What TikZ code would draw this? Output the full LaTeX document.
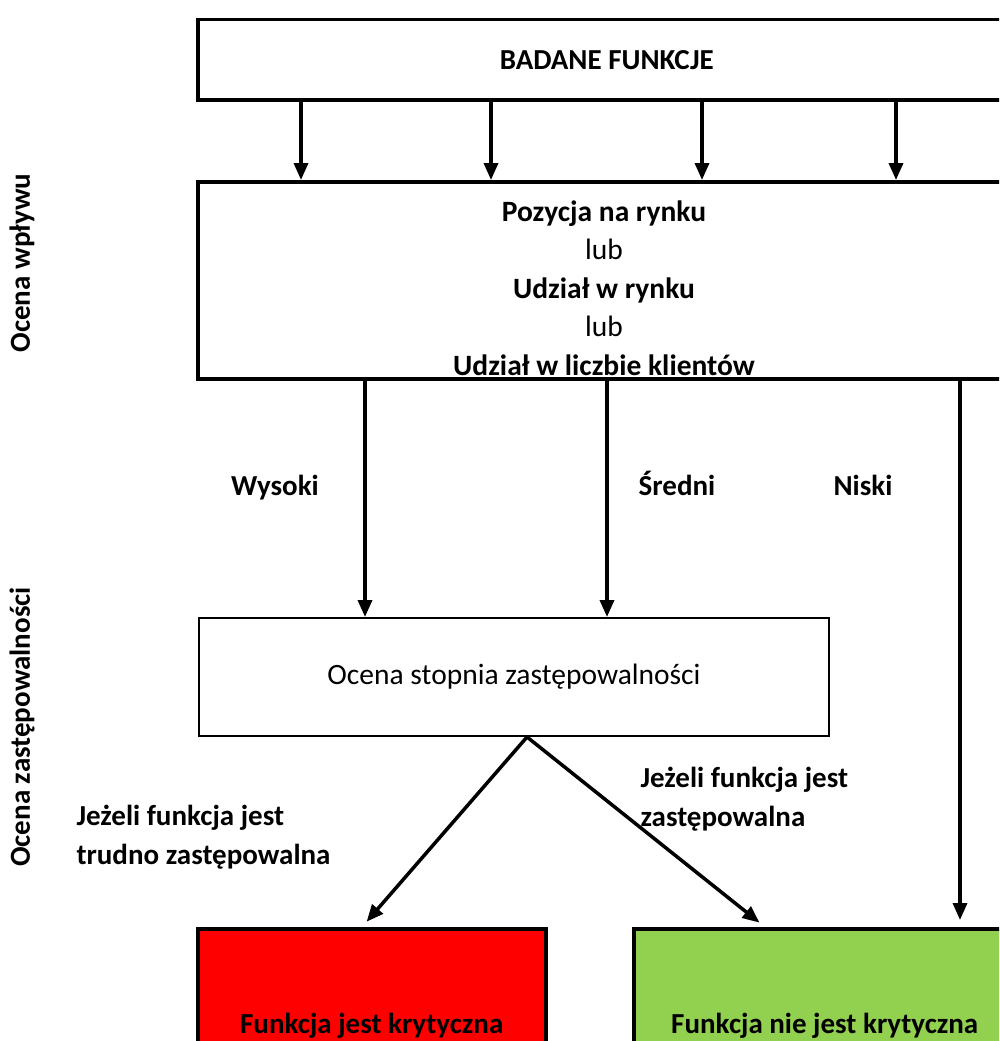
\documentclass[tikz,border=0pt]{standalone}
\usepackage{fontspec}
\setmainfont{Carlito}
\usetikzlibrary{arrows.meta}
\usetikzlibrary{calc}
\usepackage{xcolor}
\definecolor{critred}{HTML}{FF0000}
\definecolor{okgreen}{HTML}{92D050}

\begin{document}
\begin{tikzpicture}[x=1pt,y=-1pt,
    box/.style={draw, line width=3.5pt, rectangle, inner sep=0pt, anchor=north west},
    arr/.style={line width=3.5pt, -{Triangle[length=17pt,width=14pt]}},
    txt/.style={font=\fontsize{29.5}{38.5}\selectfont},
    lbl/.style={font=\fontsize{29}{39}\selectfont\bfseries}]
      \clip (0,0) rectangle (999,1041);

      % Boxes
      \node[box, lbl, minimum width=818pt, minimum height=80pt] (badane) at (196,18) {BADANE FUNKCJE};
      \node[box, minimum width=818pt, minimum height=197pt] (rynek) at (196,180) {};
      \node[txt, align=center] (miary) at (604,288) {\textbf{Pozycja na rynku}\\lub\\\textbf{Udział w rynku}\\lub\\\textbf{Udział w liczbie klientów}};
      \node[box, txt, line width=2pt, minimum width=630pt, minimum height=118pt] (zast) at (198,617) {Ocena stopnia zastępowalności};
      \node[box, lbl, fill=critred, minimum width=348pt, minimum height=194pt] (kryt) at (196,927) {Funkcja jest krytyczna};
      \node[box, lbl, fill=okgreen, minimum width=382pt, minimum height=194pt] (niekryt) at (632,927) {Funkcja nie jest krytyczna};

      % Arrows
      \foreach \x in {301,491,702,896}
      {
        \draw[arr] (badane.south -| \x,0) -- (rynek.north -| \x,0);
      }
      \draw[arr] (rynek.south -| 365,0) -- (zast.north -| 365,0);
      \draw[arr] (rynek.south -| 607,0) -- (zast.north -| 607,0);
      \draw[arr, shorten >=7pt] (rynek.south -| 960,0) -- (niekryt.north -| 960,0);
      \coordinate (split) at (zast.south -| 527,0);
      \draw[arr, shorten >=7pt] (split) -- (kryt.north -| 362,0);
      \draw[arr, shorten >=7pt] (split) -- (niekryt.north -| 765,0);

      % Labels
      \node[lbl, anchor=base] (wysoki) at (275,495) {Wysoki};
      \node[lbl, anchor=base] (sredni) at (677,495) {Średni};
      \node[lbl, anchor=base] (niski) at (863,495) {Niski};
      \node[lbl, align=left, anchor=west] (trudno) at (73,837) {Jeżeli funkcja jest\\trudno zastępowalna};
      \node[lbl, align=left, anchor=west] (latwo) at (637,799) {Jeżeli funkcja jest\\zastępowalna};
      \node[lbl, rotate=90] (wplyw) at (22,263) {Ocena wpływu};
      \node[lbl, rotate=90] (zastep) at (22,727) {Ocena zastępowalności};

  \end{tikzpicture}
\end{document}
